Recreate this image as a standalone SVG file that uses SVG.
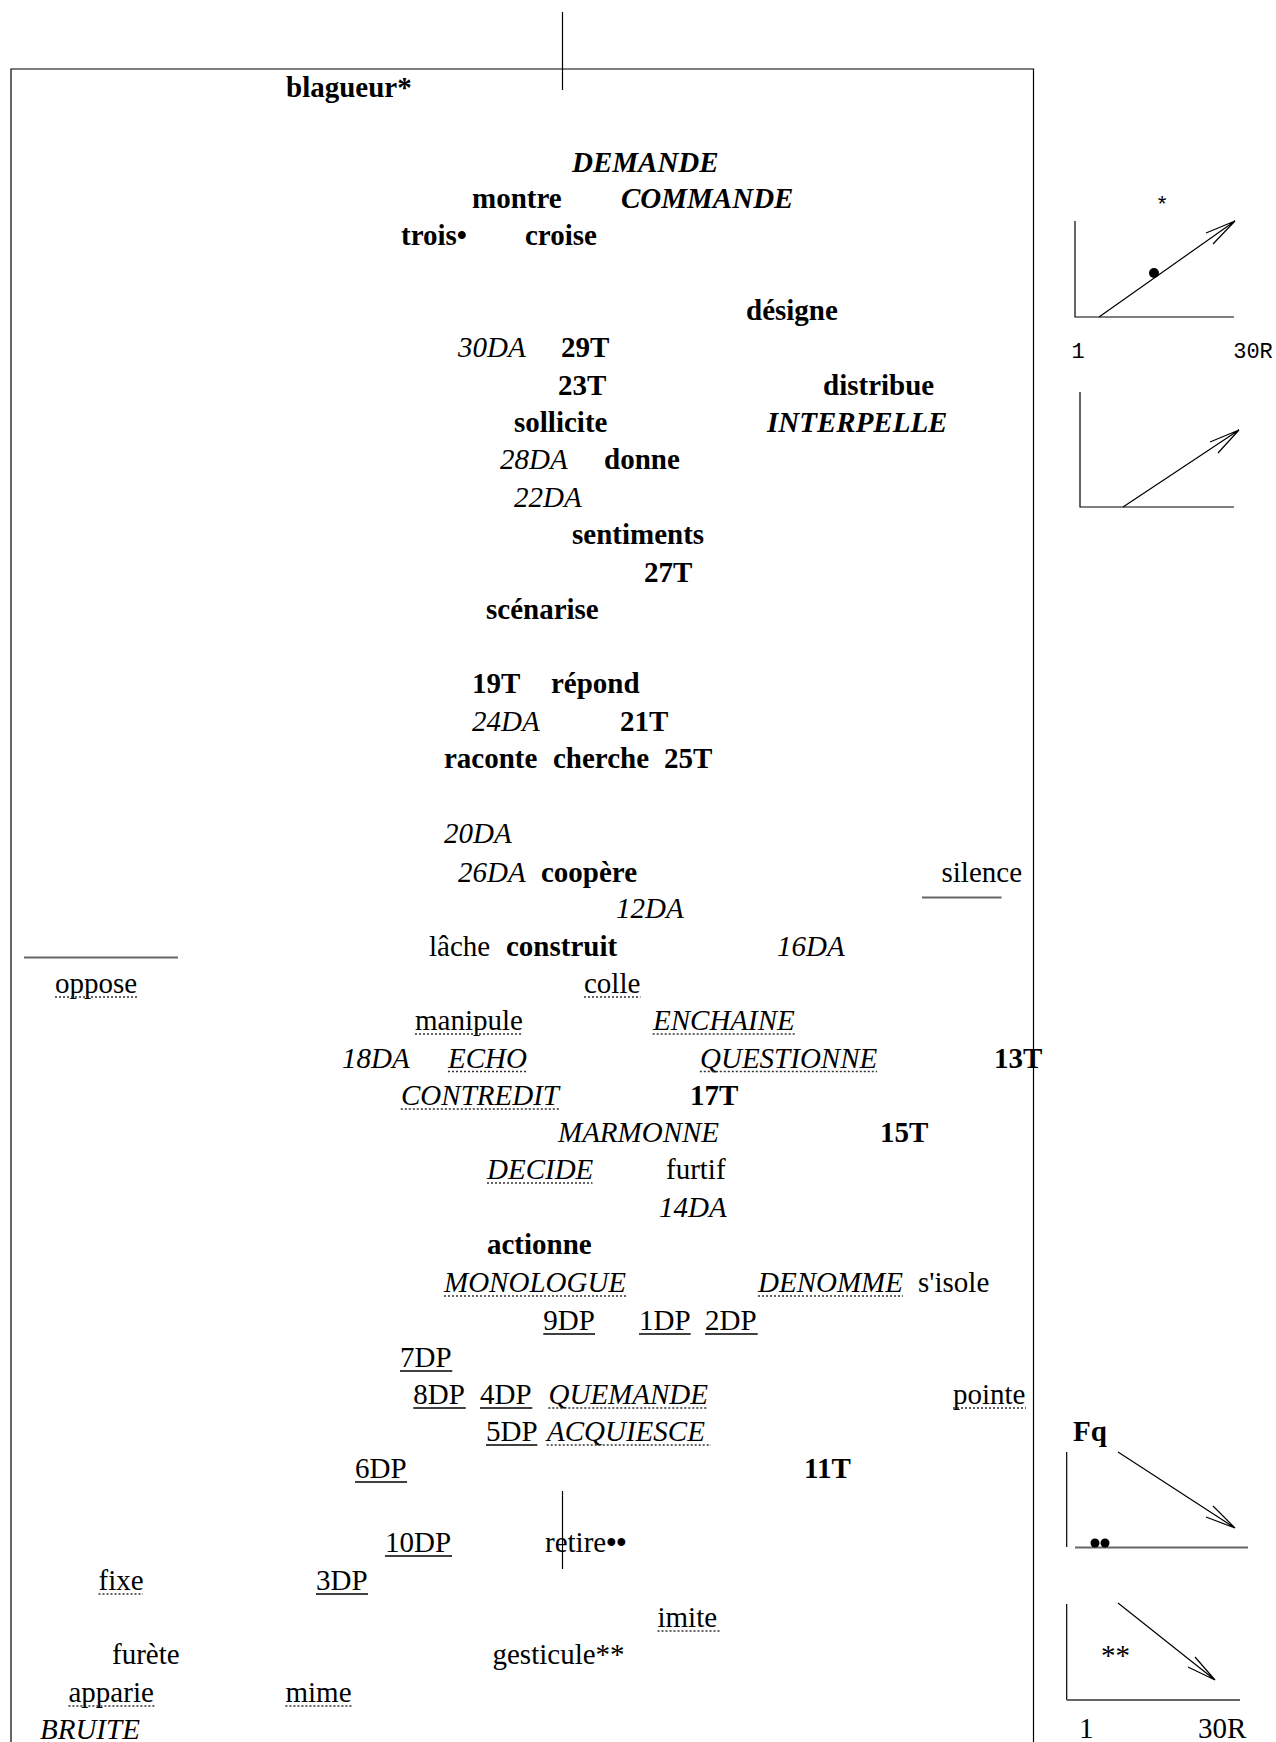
<svg xmlns="http://www.w3.org/2000/svg" width="1276" height="1742" viewBox="0 0 1276 1742">
<style>
text{font-family:"Liberation Serif","Times New Roman",serif;font-size:29px;fill:#000}
.b{font-weight:bold}
.i{font-style:italic}
.bi{font-weight:bold;font-style:italic}
.m{font-family:"Liberation Mono","Courier New",monospace;font-size:22px}
.ul{stroke:#000;stroke-width:1.6}
.dt{stroke:#333;stroke-width:1.5;stroke-dasharray:2 2}
.ln{stroke:#000;stroke-width:1.2;fill:none}
.gl{stroke:#666;stroke-width:2;fill:none}
</style>
<rect width="1276" height="1742" fill="#fff"/>
<g id="connectors">
<path class="ln" d="M11,1742 V69 H1033.5 V1742"/>
<line class="ln" x1="562.5" y1="12" x2="562.5" y2="90"/>
<line class="ln" x1="562.5" y1="1491" x2="562.5" y2="1569"/>
<line class="gl" x1="24" y1="957.5" x2="178" y2="957.5"/>
<line class="gl" x1="922" y1="897.5" x2="1001.5" y2="897.5"/>
</g>
<g id="chart1">
<path class="ln" d="M1075,221 V317 H1234"/>
<path class="ln" d="M1099,317 L1235,221 M1206,233 L1235,221 L1213,244"/>
<circle cx="1154" cy="273" r="5" fill="#000"/>
<text class="m" x="1162" y="212" text-anchor="middle">*</text>
<text class="m" x="1078" y="358" text-anchor="middle">1</text>
<text class="m" x="1253" y="358" text-anchor="middle">30R</text>
</g>
<g id="chart2">
<path class="ln" d="M1080,392 V507 H1234"/>
<path class="ln" d="M1123,507 L1239,430 M1210,442 L1239,430 L1218,453"/>
</g>
<g id="chart3">
<text class="b" x="1073" y="1441">Fq</text>
<line class="ln" x1="1066.7" y1="1452" x2="1066.7" y2="1547"/>
<line class="gl" x1="1075" y1="1547.5" x2="1248" y2="1547.5"/>
<path class="ln" d="M1118,1452 L1235,1528 M1213,1506 L1235,1528 L1206,1517"/>
<circle cx="1095" cy="1543" r="4.5" fill="#000"/>
<circle cx="1105" cy="1543" r="4.5" fill="#000"/>
</g>
<g id="chart4">
<line class="ln" x1="1066.7" y1="1604" x2="1066.7" y2="1700"/>
<line class="gl" x1="1066.7" y1="1700" x2="1240" y2="1700"/>
<path class="ln" d="M1118,1603 L1215,1680 M1195,1657 L1215,1680 L1188,1667"/>
<text x="1101" y="1665" fill="#333">**</text>
<text x="1079" y="1738">1</text>
<text x="1198" y="1738">30R</text>
</g>
<g id="n-blagueur"><text class="b" x="286" y="97">blagueur*</text></g>
<g id="n-DEMANDE"><text class="bi" x="572" y="172">DEMANDE</text></g>
<g id="n-montre"><text class="b" x="472" y="208">montre</text></g>
<g id="n-COMMANDE"><text class="bi" x="621" y="208">COMMANDE</text></g>
<g id="n-trois"><text class="b" x="401" y="245">trois•</text></g>
<g id="n-croise"><text class="b" x="525" y="245">croise</text></g>
<g id="n-designe"><text class="b" x="746" y="320">désigne</text></g>
<g id="n-30DA"><text class="i" x="458" y="357">30DA</text></g>
<g id="n-29T"><text class="b" x="561" y="357">29T</text></g>
<g id="n-23T"><text class="b" x="558" y="395">23T</text></g>
<g id="n-distribue"><text class="b" x="823" y="395">distribue</text></g>
<g id="n-sollicite"><text class="b" x="514" y="432">sollicite</text></g>
<g id="n-INTERPELLE"><text class="bi" x="767" y="432">INTERPELLE</text></g>
<g id="n-28DA"><text class="i" x="500" y="469">28DA</text></g>
<g id="n-donne"><text class="b" x="604" y="469">donne</text></g>
<g id="n-22DA"><text class="i" x="514" y="507">22DA</text></g>
<g id="n-sentiments"><text class="b" x="572" y="544">sentiments</text></g>
<g id="n-27T"><text class="b" x="644" y="582">27T</text></g>
<g id="n-scenarise"><text class="b" x="486" y="619">scénarise</text></g>
<g id="n-19T"><text class="b" x="472" y="693">19T</text></g>
<g id="n-repond"><text class="b" x="551" y="693">répond</text></g>
<g id="n-24DA"><text class="i" x="472" y="731">24DA</text></g>
<g id="n-21T"><text class="b" x="620" y="731">21T</text></g>
<g id="n-raconte"><text class="b" x="444" y="768">raconte</text></g>
<g id="n-cherche"><text class="b" x="553" y="768">cherche</text></g>
<g id="n-25T"><text class="b" x="664" y="768">25T</text></g>
<g id="n-20DA"><text class="i" x="444" y="843">20DA</text></g>
<g id="n-26DA"><text class="i" x="458" y="881.5">26DA</text></g>
<g id="n-coopere"><text class="b" x="541" y="881.5">coopère</text></g>
<g id="n-silence"><text x="941.5" y="881.5">silence</text></g>
<g id="n-12DA"><text class="i" x="616" y="918">12DA</text></g>
<g id="n-lache"><text x="429" y="955.5">lâche</text></g>
<g id="n-construit"><text class="b" x="506" y="955.5">construit</text></g>
<g id="n-16DA"><text class="i" x="777" y="955.5">16DA</text></g>
<g id="n-oppose"><text x="55" y="993">oppose</text><line class="dt" x1="55" y1="997" x2="137.5" y2="997"/></g>
<g id="n-colle"><text x="584" y="993">colle</text><line class="dt" x1="584" y1="997" x2="640.5" y2="997"/></g>
<g id="n-manipule"><text x="415" y="1030">manipule</text><line class="dt" x1="415" y1="1034" x2="522.6" y2="1034"/></g>
<g id="n-ENCHAINE"><text class="i" x="653" y="1030">ENCHAINE</text><line class="dt" x1="652.7" y1="1034" x2="795.7" y2="1034"/></g>
<g id="n-18DA"><text class="i" x="342" y="1067.5">18DA</text></g>
<g id="n-ECHO"><text class="i" x="448" y="1067.5">ECHO</text><line class="dt" x1="448" y1="1071.5" x2="526.7" y2="1071.5"/></g>
<g id="n-QUESTIONNE"><text class="i" x="700" y="1067.5">QUESTIONNE</text><line class="dt" x1="699.8" y1="1071.5" x2="877" y2="1071.5"/></g>
<g id="n-13T"><text class="b" x="994" y="1067.5">13T</text></g>
<g id="n-CONTREDIT"><text class="i" x="401" y="1105">CONTREDIT</text><line class="dt" x1="400.8" y1="1109" x2="560" y2="1109"/></g>
<g id="n-17T"><text class="b" x="690" y="1105">17T</text></g>
<g id="n-MARMONNE"><text class="i" x="558" y="1142">MARMONNE</text></g>
<g id="n-15T"><text class="b" x="880" y="1142">15T</text></g>
<g id="n-DECIDE"><text class="i" x="487" y="1179">DECIDE</text><line class="dt" x1="487" y1="1183" x2="592.5" y2="1183"/></g>
<g id="n-furtif"><text x="666" y="1179">furtif</text></g>
<g id="n-14DA"><text class="i" x="659" y="1217">14DA</text></g>
<g id="n-actionne"><text class="b" x="487" y="1254">actionne</text></g>
<g id="n-MONOLOGUE"><text class="i" x="444" y="1292">MONOLOGUE</text><line class="dt" x1="444" y1="1296" x2="626.7" y2="1296"/></g>
<g id="n-DENOMME"><text class="i" x="758" y="1292">DENOMME</text><line class="dt" x1="758" y1="1296" x2="903" y2="1296"/></g>
<g id="n-sisole"><text x="918" y="1292">s'isole</text></g>
<g id="n-9DP"><text x="543.3" y="1330">9DP</text><line class="ul" x1="543.3" y1="1334" x2="595" y2="1334"/></g>
<g id="n-1DP"><text x="639" y="1330">1DP</text><line class="ul" x1="639" y1="1334" x2="690.7" y2="1334"/></g>
<g id="n-2DP"><text x="705" y="1330">2DP</text><line class="ul" x1="705" y1="1334" x2="757.7" y2="1334"/></g>
<g id="n-7DP"><text x="400" y="1367">7DP</text><line class="ul" x1="400" y1="1371" x2="452.3" y2="1371"/></g>
<g id="n-8DP"><text x="413.3" y="1404">8DP</text><line class="ul" x1="413.3" y1="1408" x2="465.7" y2="1408"/></g>
<g id="n-4DP"><text x="480" y="1404">4DP</text><line class="ul" x1="480" y1="1408" x2="532.3" y2="1408"/></g>
<g id="n-QUEMANDE"><text class="i" x="548.5" y="1404">QUEMANDE</text><line class="dt" x1="548.3" y1="1408" x2="708.3" y2="1408"/></g>
<g id="n-pointe"><text x="953" y="1404">pointe</text><line class="dt" x1="953" y1="1408" x2="1026" y2="1408"/></g>
<g id="n-5DP"><text x="486" y="1441">5DP</text><line class="ul" x1="486" y1="1445" x2="537.3" y2="1445"/></g>
<g id="n-ACQUIESCE"><text class="i" x="547" y="1441">ACQUIESCE</text><line class="dt" x1="546.7" y1="1445" x2="711" y2="1445"/></g>
<g id="n-6DP"><text x="355" y="1478">6DP</text><line class="ul" x1="355" y1="1482" x2="407" y2="1482"/></g>
<g id="n-11T"><text class="b" x="804" y="1478">11T</text></g>
<g id="n-10DP"><text x="385" y="1552">10DP</text><line class="ul" x1="385" y1="1556" x2="452" y2="1556"/></g>
<g id="n-retire"><text x="545" y="1552">retire<tspan class="b">••</tspan></text></g>
<g id="n-fixe"><text x="98.5" y="1590">fixe</text><line class="dt" x1="98.5" y1="1594" x2="143" y2="1594"/></g>
<g id="n-3DP"><text x="316" y="1590">3DP</text><line class="ul" x1="316" y1="1594" x2="368" y2="1594"/></g>
<g id="n-imite"><text x="657.5" y="1627">imite</text><line class="dt" x1="657.5" y1="1631" x2="720" y2="1631"/></g>
<g id="n-furete"><text x="112" y="1664">furète</text></g>
<g id="n-gesticule"><text x="492.5" y="1664">gesticule**</text></g>
<g id="n-apparie"><text x="68.5" y="1702">apparie</text><line class="dt" x1="68.4" y1="1706" x2="155.4" y2="1706"/></g>
<g id="n-mime"><text x="285.5" y="1702">mime</text><line class="dt" x1="285.4" y1="1706" x2="352" y2="1706"/></g>
<g id="n-BRUITE"><text class="i" x="40" y="1739">BRUITE</text></g>
</svg>
